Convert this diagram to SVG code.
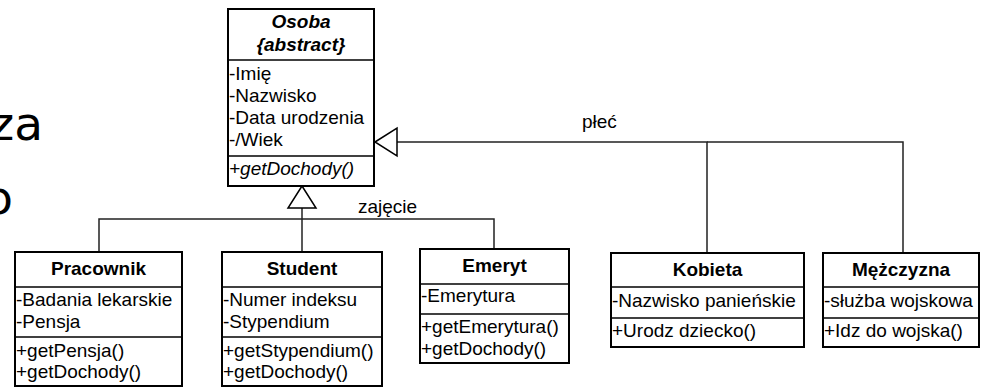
<svg xmlns="http://www.w3.org/2000/svg" width="986" height="388" viewBox="0 0 986 388">
<style>
.box{fill:#fff;stroke:#000;stroke-width:2}
.div{stroke:#000;stroke-width:1.5}
.t{font-family:"Liberation Sans",Arial,sans-serif;font-size:19px;fill:#000}
.b{font-weight:bold;text-anchor:middle}
.i{font-style:italic}
.c{fill:none;stroke:#222;stroke-width:1.5}
.tri{fill:#fff;stroke:#000;stroke-width:1.5}
.bg{font-family:"DejaVu Sans",sans-serif;font-size:47px;fill:#000}
</style>
<rect width="986" height="388" fill="#fff"/>
<text class="bg" x="43" y="140" text-anchor="end">za</text>
<text class="bg" x="13" y="214" text-anchor="end">o</text>
<g id="connectors">
<polyline class="c" points="99,252 99,219 494,219 494,249"/>
<line class="c" x1="302" y1="208" x2="302" y2="252"/>
<polygon class="tri" points="302,186 288,208 316,208"/>
<polyline class="c" points="707,253 707,142 397,142"/>
<polyline class="c" points="903,253 903,142 707,142"/>
<polygon class="tri" points="375,142 397,128 397,156"/>
<text class="t" x="358" y="213">zajęcie</text>
<text class="t" x="582" y="128">płeć</text>
</g>
<g id="osoba">
<rect class="box" x="228" y="9" width="146" height="177"/>
<line class="div" x1="228" y1="60" x2="374" y2="60"/>
<line class="div" x1="228" y1="156" x2="374" y2="156"/>
<text class="t b i" x="301" y="28">Osoba</text>
<text class="t b i" x="301" y="51">{abstract}</text>
<text class="t" x="229" y="80">-Imię</text>
<text class="t" x="229" y="102">-Nazwisko</text>
<text class="t" x="229" y="124">-Data urodzenia</text>
<text class="t" x="229" y="146">-/Wiek</text>
<text class="t i" x="229" y="175">+getDochody()</text>
</g>
<g id="pracownik">
<rect class="box" x="15" y="252" width="167" height="134"/>
<line class="div" x1="15" y1="287" x2="182" y2="287"/>
<line class="div" x1="15" y1="337" x2="182" y2="337"/>
<text class="t b" x="98.5" y="275">Pracownik</text>
<text class="t" x="16" y="306">-Badania lekarskie</text>
<text class="t" x="16" y="328">-Pensja</text>
<text class="t" x="16" y="357">+getPensja()</text>
<text class="t" x="16" y="378">+getDochody()</text>
</g>
<g id="student">
<rect class="box" x="222" y="252" width="160" height="134"/>
<line class="div" x1="222" y1="287" x2="382" y2="287"/>
<line class="div" x1="222" y1="337" x2="382" y2="337"/>
<text class="t b" x="302" y="275">Student</text>
<text class="t" x="223" y="306">-Numer indeksu</text>
<text class="t" x="223" y="328">-Stypendium</text>
<text class="t" x="223" y="357">+getStypendium()</text>
<text class="t" x="223" y="378">+getDochody()</text>
</g>
<g id="emeryt">
<rect class="box" x="420" y="249" width="149" height="114"/>
<line class="div" x1="420" y1="284" x2="569" y2="284"/>
<line class="div" x1="420" y1="314" x2="569" y2="314"/>
<text class="t b" x="494.5" y="272">Emeryt</text>
<text class="t" x="421" y="302">-Emerytura</text>
<text class="t" x="421" y="333">+getEmerytura()</text>
<text class="t" x="421" y="355">+getDochody()</text>
</g>
<g id="kobieta">
<rect class="box" x="611" y="253" width="193" height="94"/>
<line class="div" x1="611" y1="287" x2="804" y2="287"/>
<line class="div" x1="611" y1="318" x2="804" y2="318"/>
<text class="t b" x="707.5" y="276">Kobieta</text>
<text class="t" x="612" y="307">-Nazwisko panieńskie</text>
<text class="t" x="612" y="337">+Urodz dziecko()</text>
</g>
<g id="mezczyzna">
<rect class="box" x="823" y="253" width="156" height="94"/>
<line class="div" x1="823" y1="287" x2="979" y2="287"/>
<line class="div" x1="823" y1="318" x2="979" y2="318"/>
<text class="t b" x="901" y="276">Mężczyzna</text>
<text class="t" x="824" y="307">-służba wojskowa</text>
<text class="t" x="824" y="337">+Idz do wojska()</text>
</g>
</svg>
